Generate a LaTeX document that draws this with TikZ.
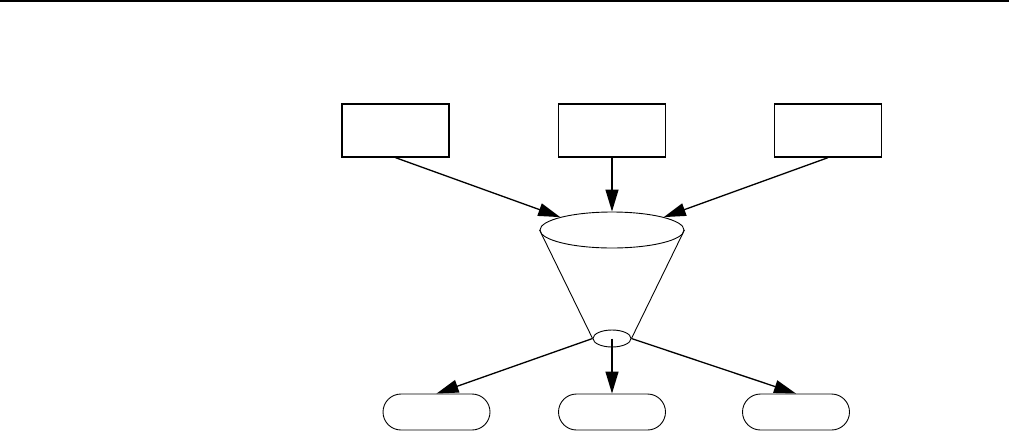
\documentclass[tikz,border=0pt]{standalone}
\usepackage{tikz}
\usetikzlibrary{arrows.meta,shapes.geometric}

\tikzset{
  inbox/.style={draw,line width=1.3pt,minimum width=107pt,minimum height=53pt,inner sep=0pt},
  outbox/.style={draw,line width=0.9pt,rounded corners=18pt,minimum width=107pt,minimum height=36pt,inner sep=0pt},
  cone/.style={draw,ellipse,line width=0.9pt,inner sep=0pt},
  flow/.style={line width=1.3pt,-{Triangle[length=22pt,width=13pt]}}
}

\begin{document}
\begin{tikzpicture}[x=1pt,y=-1pt]
\useasboundingbox (0,0) rectangle (1009,432);
\draw[line width=2.2pt] (0,1.1) -- (1009,1.1);

% sources
\node[inbox] (in1) at (395.5,130.5) {};
\node[inbox] (in2) at (612,130.5) {};
\node[inbox] (in3) at (828,130.5) {};

% funnel
\node[cone,minimum width=144pt,minimum height=36pt] (mouth) at (612,230) {};
\node[cone,minimum width=38pt,minimum height=17pt] (neck) at (612,338.5) {};
\draw[line width=0.9pt] (mouth.west) -- (neck.west);
\draw[line width=0.9pt] (mouth.east) -- (neck.east);

% results
\node[outbox] (out1) at (436.5,412) {};
\node[outbox] (out2) at (612,412) {};
\node[outbox] (out3) at (796,412) {};

\draw[flow] (in1.south) -- (mouth.166);
\draw[flow] (in2.south) -- (mouth.north);
\draw[flow] (in3.south) -- (mouth.14);
\draw[flow] (neck.west) -- (out1.north);
\draw[flow] (neck.center) -- (out2.north);
\draw[flow] (neck.east) -- (out3.north);
\end{tikzpicture}
\end{document}
